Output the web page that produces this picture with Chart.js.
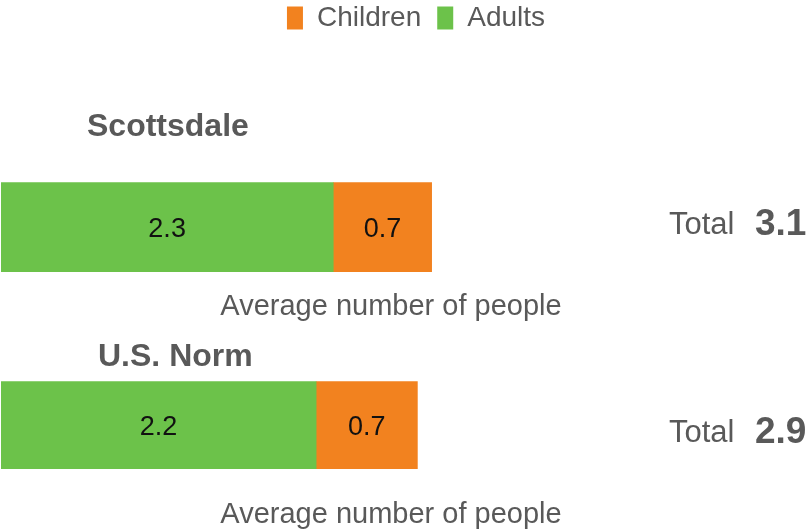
<!DOCTYPE html>
<html>
<head>
<meta charset="utf-8">
<script src="https://cdn.jsdelivr.net/npm/chart.js@4"></script>
<style>
    html, body { margin: 0; padding: 0; background: #fff; }
    body { width: 809px; height: 529px; overflow: hidden; }
    .panel { position: relative; width: 809px; }
    #panel1 { height: 330px; }
    #panel2 { height: 201px; }
</style>
</head>
<body>
<div class="panel" id="panel1"><canvas id="chart1"></canvas></div>
<div class="panel" id="panel2"><canvas id="chart2"></canvas></div>
<script>
// Data
const categories = ['Scottsdale', 'U.S. Norm'];
const seriesNames = ['Adults', 'Children'];
const adults = [2.33, 2.21];
const children = [0.69, 0.71];
const totals = [3.1, 2.9];
const axisTitle = 'Average number of people';
const totalLabel = 'Total';

const FONT = "'Liberation Sans', Arial, sans-serif";
const GREY = '#595959';
const colors = { Adults: '#6cc24a', Children: '#f2821f' };

// Shifts boxes after layout (title and legend have no offset option)
const nudgePlugin = {
    id: 'nudge',
    afterLayout(chart, args, opts) {
        if (opts.title && chart.titleBlock) {
            chart.titleBlock.left += opts.title;
            chart.titleBlock.right += opts.title;
        }
        if (chart.legend && chart.options.plugins.legend.display) {
            chart.legend.left += opts.legendX || 0;
            chart.legend.right += opts.legendX || 0;
            chart.legend.top += opts.legendY || 0;
            chart.legend.bottom += opts.legendY || 0;
        }
    }
};

// Value labels in the middle of each bar segment
const barLabelPlugin = {
    id: 'barLabels',
    afterDatasetsDraw(chart) {
        const ctx = chart.ctx;
        ctx.save();
        ctx.font = '27px ' + FONT;
        ctx.fillStyle = '#111';
        ctx.textAlign = 'center';
        ctx.textBaseline = 'middle';
        chart.data.datasets.forEach((ds, i) => {
            chart.getDatasetMeta(i).data.forEach((bar, j) => {
                const v = ds.data[j];
                ctx.fillText(v.toFixed(1), (bar.x + bar.base) / 2, bar.y + 2);
            });
        });
        ctx.restore();
    }
};

// "Total  x.x" to the right of the bar
const totalPlugin = {
    id: 'totalText',
    afterDraw(chart, args, opts) {
        const ctx = chart.ctx;
        const area = chart.chartArea;
        const y = (area.top + area.bottom) / 2 + opts.dy;
        ctx.save();
        ctx.fillStyle = GREY;
        ctx.textAlign = 'left';
        ctx.textBaseline = 'middle';
        ctx.font = '31px ' + FONT;
        ctx.fillText(totalLabel, 669, y);
        ctx.font = 'bold 37px ' + FONT;
        ctx.fillText(opts.value.toFixed(1), 755, y);
        ctx.restore();
    }
};

function makeChart(canvasId, i, cfg) {
    const ctx = document.getElementById(canvasId).getContext('2d');
    return new Chart(ctx, {
        type: 'bar',
        data: {
            labels: [categories[i]],
            datasets: [
                {
                    label: seriesNames[0],
                    data: [adults[i]],
                    backgroundColor: colors.Adults,
                    borderWidth: 0
                },
                {
                    label: seriesNames[1],
                    data: [children[i]],
                    backgroundColor: colors.Children,
                    borderWidth: 0
                }
            ]
        },
        options: {
            indexAxis: 'y',
            responsive: true,
            maintainAspectRatio: false,
            animation: false,
            layout: {
                padding: { left: 1, right: 28, top: 0, bottom: cfg.padBottom }
            },
            datasets: {
                bar: { barPercentage: 1, categoryPercentage: 1 }
            },
            scales: {
                x: {
                    stacked: true,
                    min: 0,
                    max: 5.47,
                    grid: { display: false },
                    border: { display: false },
                    ticks: { display: false },
                    title: {
                        display: true,
                        text: axisTitle,
                        color: GREY,
                        font: { family: FONT, size: 29, lineHeight: 1.1 },
                        padding: { top: cfg.axisPadTop, bottom: 0 }
                    }
                },
                y: {
                    stacked: true,
                    display: false
                }
            },
            plugins: {
                legend: {
                    display: cfg.legend,
                    reverse: true,
                    weight: 3000,
                    labels: {
                        boxWidth: 16,
                        boxHeight: 23,
                        padding: 16,
                        color: GREY,
                        font: { family: FONT, size: 28 }
                    }
                },
                title: {
                    display: true,
                    text: categories[i],
                    align: 'start',
                    weight: 500,
                    color: GREY,
                    font: { family: FONT, size: 32, weight: 'bold', lineHeight: 1.1 },
                    padding: { top: cfg.titlePadTop, bottom: cfg.titlePadBottom }
                },
                tooltip: { enabled: false },
                nudge: { title: cfg.titleShift, legendX: 25, legendY: -12 },
                totalText: { value: totals[i], dy: cfg.totalDy }
            }
        },
        plugins: [nudgePlugin, barLabelPlugin, totalPlugin]
    });
}

makeChart('chart1', 0, {
    legend: true,
    titlePadTop: 56,
    titlePadBottom: 37,
    titleShift: 86,
    axisPadTop: 11,
    padBottom: 7,
    totalDy: -2
});

makeChart('chart2', 1, {
    legend: false,
    titlePadTop: 10,
    titlePadBottom: 6,
    titleShift: 97,
    axisPadTop: 22,
    padBottom: 0,
    totalDy: 8
});
</script>
</body>
</html>
